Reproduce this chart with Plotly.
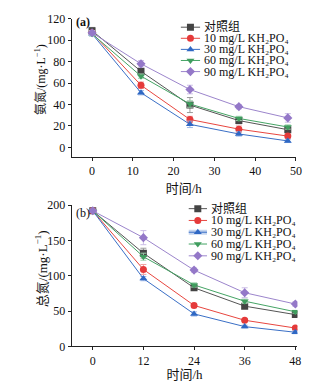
import plotly.graph_objects as go

# sampling times (h)
hours = [0, 12, 24, 36, 48]

series_names = ["对照组",
                "10 mg/L KH₂PO₄",
                "30 mg/L KH₂PO₄",
                "60 mg/L KH₂PO₄",
                "90 mg/L KH₂PO₄"]

# (a) ammonia nitrogen, mg/L
nh4_ctrl = [109, 71, 39.5, 25, 16.5]
nh4_10 = [107, 58, 26, 17, 10.5]
nh4_30 = [106, 51, 21.5, 12.5, 6]
nh4_60 = [106, 66.5, 40.5, 27, 19]
nh4_90 = [107, 78, 54, 38, 27.5]
nh4_err_ctrl = [3, 2, 7, 3, 2]
nh4_err_10 = [2, 3, 3, 3, 2]
nh4_err_30 = [2, 2, 3, 2, 1.5]
nh4_err_60 = [2, 2, 3, 2, 2]
nh4_err_90 = [2, 3, 4, 2, 4]

# (b) total nitrogen, mg/L
tn_ctrl = [192, 132, 83, 57, 45]
tn_10 = [192, 109, 58, 37, 26]
tn_30 = [192, 96, 46, 28, 20]
tn_60 = [192, 127, 87, 64, 49]
tn_90 = [192, 154, 108, 76, 60]
tn_err_ctrl = [2, 7, 3, 3, 2]
tn_err_10 = [2, 7, 3, 2, 2]
tn_err_30 = [2, 3, 3, 2, 2]
tn_err_60 = [2, 5, 3, 3, 2]
tn_err_90 = [2, 10, 3, 7, 3]

ticks_a = [0, 10, 20, 30, 40, 50]
ticks_b = [0, 12, 24, 36, 48]

line_colors = ["#555555", "#e8463f", "#3a6fc6", "#45a465", "#9c85cc"]
marker_colors = ["#444444", "#e53a3a", "#2f68c4", "#3f9d5e", "#9478c8"]
err_colors = ["#9a9a9a", "#f0a0a0", "#9fb8e6", "#a0d2b0", "#cbbde6"]
symbols = ["square", "circle", "triangle-up", "triangle-down", "diamond"]

SERIF = "Liberation Serif, Noto Sans CJK SC"
TXT = "#111111"

W, H = 327, 382


def px_x(p):
    return p / W


def px_y(p):
    return 1 - p / H


fig = go.Figure()

panels = [
    ("x", "y", [nh4_ctrl, nh4_10, nh4_30, nh4_60, nh4_90],
     [nh4_err_ctrl, nh4_err_10, nh4_err_30, nh4_err_60, nh4_err_90]),
    ("x2", "y2", [tn_ctrl, tn_10, tn_30, tn_60, tn_90],
     [tn_err_ctrl, tn_err_10, tn_err_30, tn_err_60, tn_err_90]),
]

for xa, ya, vals, errs in panels:
    for i in range(5):
        fig.add_trace(go.Scatter(
            x=hours, y=vals[i], xaxis=xa, yaxis=ya, mode="lines+markers",
            line=dict(color=line_colors[i], width=1),
            marker=dict(symbol=symbols[i], size=7, color=marker_colors[i],
                        line=dict(width=0)),
            error_y=dict(type="data", array=errs[i], color=err_colors[i],
                         thickness=1, width=3),
            showlegend=False, name=series_names[i]))

# legend keys drawn on small overlay axes (x3/y3 top, x4/y4 bottom)
legend_specs = [("x3", "y3", False), ("x4", "y4", True)]
for xa, ya, highlight in legend_specs:
    for i in range(5):
        if highlight and i == 2:
            fig.add_trace(go.Scatter(
                x=[0, 1], y=[i + 1, i + 1], xaxis=xa, yaxis=ya, mode="lines",
                line=dict(color="#c5d5ef", width=5), showlegend=False,
                hoverinfo="skip"))
        fig.add_trace(go.Scatter(
            x=[0, 1], y=[i + 1, i + 1], xaxis=xa, yaxis=ya, mode="lines",
            line=dict(color=line_colors[i], width=1), showlegend=False,
            hoverinfo="skip"))
        fig.add_trace(go.Scatter(
            x=[0.5], y=[i + 1], xaxis=xa, yaxis=ya, mode="markers",
            marker=dict(symbol=symbols[i], size=7, color=marker_colors[i]),
            showlegend=False, hoverinfo="skip"))
        fig.add_annotation(
            xref=xa, yref=ya, x=1, y=i + 1, text=series_names[i],
            showarrow=False, xanchor="left", yanchor="middle", xshift=2,
            font=dict(family=SERIF, size=12, color=TXT))

axis_common = dict(showline=True, linecolor="#222222", linewidth=1,
                   ticks="outside", ticklen=3, tickwidth=1,
                   tickcolor="#222222", showgrid=False, zeroline=False,
                   tickfont=dict(family=SERIF, size=12, color=TXT),
                   mirror=False)
xtitle_font = dict(family=SERIF, size=13, color=TXT)

fig.update_layout(
    width=W, height=H, margin=dict(l=0, r=0, t=0, b=0),
    paper_bgcolor="white", plot_bgcolor="white", showlegend=False,
    xaxis=dict(axis_common, domain=[px_x(73), px_x(301.5)], range=[-5, 50],
               tickvals=ticks_a, anchor="y",
               title=dict(text="时间/h", standoff=6, font=xtitle_font)),
    yaxis=dict(axis_common, domain=[px_y(155.7), px_y(12.3)],
               range=[-9, 120], tickvals=[0, 20, 40, 60, 80, 100, 120],
               anchor="x"),
    xaxis2=dict(axis_common, domain=[px_x(73), px_x(303)], range=[-5, 48.5],
                tickvals=ticks_b, anchor="y2",
                title=dict(text="时间/h", standoff=5, font=xtitle_font)),
    yaxis2=dict(axis_common, domain=[px_y(352.3), px_y(205.7)],
                range=[0, 200], tickvals=[0, 50, 100, 150, 200],
                anchor="x2"),
    xaxis3=dict(domain=[px_x(184), px_x(204)], range=[0, 1], visible=False,
                anchor="y3"),
    yaxis3=dict(domain=[px_y(72.8), px_y(15.2)], range=[5.5, 0.5],
                visible=False, anchor="x3"),
    xaxis4=dict(domain=[px_x(192), px_x(211)], range=[0, 1], visible=False,
                anchor="y4"),
    yaxis4=dict(domain=[px_y(264.4), px_y(203.2)], range=[5.5, 0.5],
                visible=False, anchor="x4"),
)

# rotated y-axis titles, pinned at their lower end
ytitles = [
    (px_x(41.5), px_y(114), "氨氮/(mg·L<sup>−1</sup>)", 12),
    (px_x(42), px_y(314), "总氮/(mg·L<sup>−1</sup>)", 13),
]
for tx, ty, text, fs in ytitles:
    fig.add_annotation(xref="paper", yref="paper", x=tx, y=ty, text=text,
                       showarrow=False, xanchor="center", yanchor="bottom",
                       textangle=-90,
                       font=dict(family=SERIF, size=fs, color=TXT))

fig.add_annotation(xref="paper", yref="paper", x=px_x(75), y=px_y(16),
                   text="<b>(a)</b>", showarrow=False, xanchor="left",
                   yanchor="middle", font=dict(family=SERIF, size=12, color=TXT))
fig.add_annotation(xref="paper", yref="paper", x=px_x(75), y=px_y(214),
                   text="(b)", showarrow=False, xanchor="left",
                   yanchor="middle", font=dict(family=SERIF, size=12, color=TXT))

fig.write_html("out.html")
